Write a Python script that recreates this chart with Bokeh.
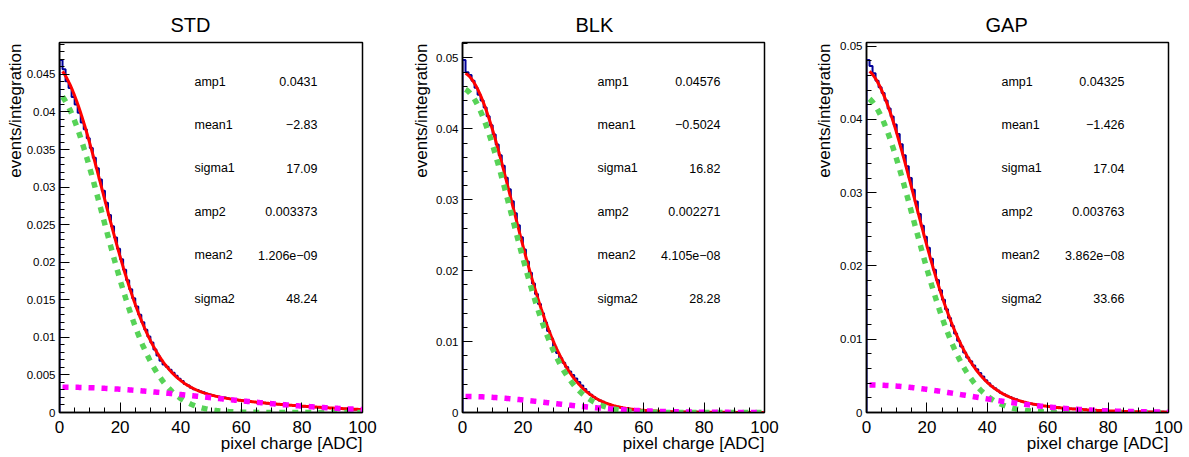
import numpy as np
from bokeh.plotting import figure
from bokeh.layouts import row
from bokeh.models import Range1d, FixedTicker, CustomJSTickFormatter, Label, Title
from bokeh.embed import file_html
from bokeh.resources import INLINE

# ---------------- data ----------------
titles = ["STD", "BLK", "GAP"]
param_names = ["amp1", "mean1", "sigma1", "amp2", "mean2", "sigma2"]

# fit parameters (amp1, mean1, sigma1, amp2, mean2, sigma2)
std_params = [0.0431, -2.83, 17.09, 0.003373, 1.206e-09, 48.24]
blk_params = [0.04576, -0.5024, 16.82, 0.002271, 4.105e-08, 28.28]
gap_params = [0.04325, -1.426, 17.04, 0.003763, 3.862e-08, 33.66]

std_param_text = ["0.0431", "\u22122.83", "17.09", "0.003373", "1.206e\u221209", "48.24"]
blk_param_text = ["0.04576", "\u22120.5024", "16.82", "0.002271", "4.105e\u221208", "28.28"]
gap_param_text = ["0.04325", "\u22121.426", "17.04", "0.003763", "3.862e\u221208", "33.66"]

# histogram: 100 bins of width 1 ADC from 0 to 100
bin_edges = list(range(0, 101))

std_counts = [0.0469, 0.0457, 0.0441, 0.0432, 0.0420, 0.0410, 0.0399, 0.0386, 0.0377, 0.0365,
              0.0352, 0.0339, 0.0325, 0.0310, 0.0295, 0.0279, 0.0263, 0.0248, 0.0233, 0.0218,
              0.0204, 0.0190, 0.0176, 0.0164, 0.0152, 0.0141, 0.0130, 0.0120, 0.0110, 0.0101,
              0.0093, 0.0084, 0.0076, 0.0069, 0.0064, 0.0061, 0.0057, 0.0053, 0.0049, 0.0045,
              0.0042, 0.0038, 0.0036, 0.0033, 0.0031, 0.0030, 0.0028, 0.0027, 0.0025, 0.0024,
              0.0023, 0.0022, 0.0021, 0.0020, 0.0020, 0.0019, 0.0018, 0.0017, 0.0017, 0.0016,
              0.0016, 0.0015, 0.0015, 0.0014, 0.0014, 0.0013, 0.0013, 0.0013, 0.0012, 0.0012,
              0.0012, 0.0011, 0.0011, 0.0011, 0.0010, 0.0010, 0.0010, 0.0009, 0.0009, 0.0009,
              0.0008, 0.0008, 0.0008, 0.0008, 0.0007, 0.0007, 0.0007, 0.0007, 0.0006, 0.0006,
              0.0006, 0.0006, 0.0005, 0.0005, 0.0005, 0.0005, 0.0005, 0.0004, 0.0004, 0.0004]

blk_counts = [0.0497, 0.0480, 0.0476, 0.0468, 0.0458, 0.0448, 0.0440, 0.0430, 0.0418, 0.0405,
              0.0392, 0.0378, 0.0363, 0.0348, 0.0331, 0.0315, 0.0298, 0.0281, 0.0264, 0.0247,
              0.0230, 0.0213, 0.0197, 0.0182, 0.0167, 0.0153, 0.0140, 0.0127, 0.0115, 0.0104,
              0.0093, 0.0084, 0.0077, 0.0070, 0.0064, 0.0058, 0.0053, 0.0048, 0.0043, 0.0038,
              0.0033, 0.0029, 0.0025, 0.0022, 0.0019, 0.0017, 0.0015, 0.0013, 0.0012, 0.0010,
              0.0009, 0.0008, 0.0007, 0.0006, 0.0006, 0.0005, 0.0004, 0.0004, 0.0004, 0.0003,
              0.0003, 0.0003, 0.0002, 0.0002, 0.0002, 0.0002, 0.0002, 0.0001, 0.0001, 0.0001,
              0.0001, 0.0001, 0.0001, 0.0001, 0.0001, 0.0001, 0.0001, 0.0001, 0.0001, 0.0001,
              0.00005, 0.00005, 0.00005, 0.00005, 0.00005, 0.00005, 0.00005, 0.00005, 0.00005, 0.00005,
              0.00005, 0.00005, 0.00005, 0.00005, 0.00005, 0.00005, 0.00005, 0.00005, 0.00005, 0.00005]

gap_counts = [0.0481, 0.0473, 0.0463, 0.0453, 0.0444, 0.0436, 0.0426, 0.0415, 0.0404, 0.0393,
              0.0380, 0.0366, 0.0351, 0.0336, 0.0320, 0.0304, 0.0288, 0.0271, 0.0255, 0.0240,
              0.0225, 0.0210, 0.0195, 0.0181, 0.0167, 0.0154, 0.0141, 0.0129, 0.0118, 0.0108,
              0.0098, 0.0090, 0.0082, 0.0075, 0.0070, 0.0064, 0.0059, 0.0054, 0.0049, 0.0044,
              0.0040, 0.0036, 0.0033, 0.0030, 0.0027, 0.0025, 0.0023, 0.0021, 0.0019, 0.0018,
              0.0016, 0.0015, 0.0014, 0.0013, 0.0012, 0.0011, 0.0011, 0.0010, 0.0009, 0.0009,
              0.0008, 0.0008, 0.0007, 0.0007, 0.0006, 0.0006, 0.0006, 0.0005, 0.0005, 0.0005,
              0.0004, 0.0004, 0.0004, 0.0003, 0.0003, 0.0003, 0.0003, 0.0003, 0.0002, 0.0002,
              0.0002, 0.0002, 0.0002, 0.0002, 0.0002, 0.0001, 0.0001, 0.0001, 0.0001, 0.0001,
              0.0001, 0.0001, 0.0001, 0.0001, 0.0001, 0.0001, 0.0001, 0.0001, 0.0001, 0.0001]

x_ticks = [0, 20, 40, 60, 80, 100]
y_ticks_std = [0, 0.005, 0.01, 0.015, 0.02, 0.025, 0.03, 0.035, 0.04, 0.045]
y_ticks_other = [0, 0.01, 0.02, 0.03, 0.04, 0.05]

x_title = "pixel charge [ADC]"
y_title = "events/integration"

# ---------------- layout / style ----------------
FONT = "Liberation Sans"
FIG_W = [396, 396, 397]
FIG_H = 457
BORDER_L = [59, 66, 74]
BORDER_R = [34, 28, 21]
BORDER_T = 42
BORDER_B = 45
YTITLE_STANDOFF = [-3, 5, 7]
TITLE_OFFSET = [111, 113, 119]

panels = [
    (titles[0], std_params, std_param_text, std_counts, y_ticks_std, 0.001),
    (titles[1], blk_params, blk_param_text, blk_counts, y_ticks_other, 0.002),
    (titles[2], gap_params, gap_param_text, gap_counts, y_ticks_other, 0.002),
]

fmt = CustomJSTickFormatter(code="return String(Number(tick.toFixed(6)));")


def set_standoff(t, v):
    try:
        t.standoff = v
    except Exception:
        t.standoff = max(v, 0)


figs = []
for i, (title, prm, prm_txt, counts, yticks, yminor) in enumerate(panels):
    W = FIG_W[i]
    fw = W - BORDER_L[i] - BORDER_R[i]
    fh = FIG_H - BORDER_T - BORDER_B
    ymax = max(counts) * 1.05

    def dx(px):
        return px / fw * 100.0

    def dy(py_from_top):
        return ymax * (fh - py_from_top) / fh

    p = figure(width=W, height=FIG_H, output_backend="svg", toolbar_location=None,
               x_range=Range1d(0, 100), y_range=Range1d(0, ymax),
               min_border_left=BORDER_L[i], min_border_right=BORDER_R[i],
               min_border_top=BORDER_T, min_border_bottom=BORDER_B,
               background_fill_color="white", border_fill_color="white")
    p.grid.visible = False
    p.outline_line_color = "black"
    p.outline_line_width = 1.5
    p.outline_line_alpha = 1.0

    # panel title
    p.title.text = title
    p.title.text_font = FONT
    p.title.text_font_size = "20px"
    p.title.text_font_style = "normal"
    p.title.text_color = "black"
    p.title.align = "left"
    p.title.offset = TITLE_OFFSET[i]
    p.title.vertical_align = "bottom"
    set_standoff(p.title, 13)

    # axes
    xa = p.xaxis[0]
    xa.ticker = FixedTicker(ticks=x_ticks, minor_ticks=list(range(0, 101, 5)))
    ya = p.yaxis[0]
    ya.ticker = FixedTicker(ticks=yticks,
                            minor_ticks=[round(k * yminor, 6) for k in range(int(ymax / yminor) + 1)])
    ya.formatter = fmt
    for ax in (xa, ya):
        ax.axis_line_color = "black"
        ax.axis_line_width = 1.5
        ax.major_tick_in = 10
        ax.major_tick_out = 0
        ax.minor_tick_in = 5
        ax.minor_tick_out = 0
        ax.major_tick_line_color = "black"
        ax.minor_tick_line_color = "black"
        ax.major_label_text_font = FONT
        ax.major_label_text_color = "black"
    xa.major_label_text_font_size = "17px"
    xa.major_label_standoff = 8
    ya.major_label_text_font_size = "11.5px"
    ya.major_label_standoff = 4

    # axis titles (ROOT style: aligned to the end of the axis)
    xt = Title(text=x_title, align="right", offset=0, vertical_align="top",
               text_font=FONT, text_font_size="17px", text_font_style="normal",
               text_color="black")
    set_standoff(xt, -3)
    p.add_layout(xt, "below")
    yt = Title(text=y_title, align="right", offset=1, vertical_align="bottom",
               text_font=FONT, text_font_size="17px", text_font_style="normal",
               text_color="black")
    set_standoff(yt, YTITLE_STANDOFF[i])
    p.add_layout(yt, "left")

    # histogram outline
    hx = [bin_edges[0]]
    hy = [0.0]
    for k, v in enumerate(counts):
        hx += [bin_edges[k], bin_edges[k + 1]]
        hy += [v, v]
    hx.append(bin_edges[-1])
    hy.append(0.0)
    p.line(hx, hy, line_color="#000099", line_width=2)

    # fit function built from the displayed fit parameters
    a1, m1, s1, a2, m2, s2 = prm
    xf = np.linspace(1, 100, 400)
    g1 = a1 * np.exp(-0.5 * ((xf - m1) / s1) ** 2)
    g2 = a2 * np.exp(-0.5 * ((xf - m2) / s2) ** 2)
    p.line(xf, g1 + g2, line_color="#ff0000", line_width=3)
    p.line(xf, g1, line_color="#57d357", line_width=5.5, line_dash="6 7")
    p.line(xf, g2, line_color="#ff00ff", line_width=5.5, line_dash="6 7")

    # parameter table
    for k, (nm, tx) in enumerate(zip(param_names, prm_txt)):
        ybase = dy(39.0 + 43.4 * k)
        p.add_layout(Label(x=dx(135), y=ybase, text=nm, text_font=FONT,
                           text_font_size="12.5px", text_color="black",
                           text_align="left", text_baseline="alphabetic"))
        p.add_layout(Label(x=dx(258), y=ybase, text=tx, text_font=FONT,
                           text_font_size="12.5px", text_color="black",
                           text_align="right", text_baseline="alphabetic"))
    figs.append(p)

layout = row(*figs, spacing=0)
open("out.html", "w").write(file_html(layout, INLINE))
